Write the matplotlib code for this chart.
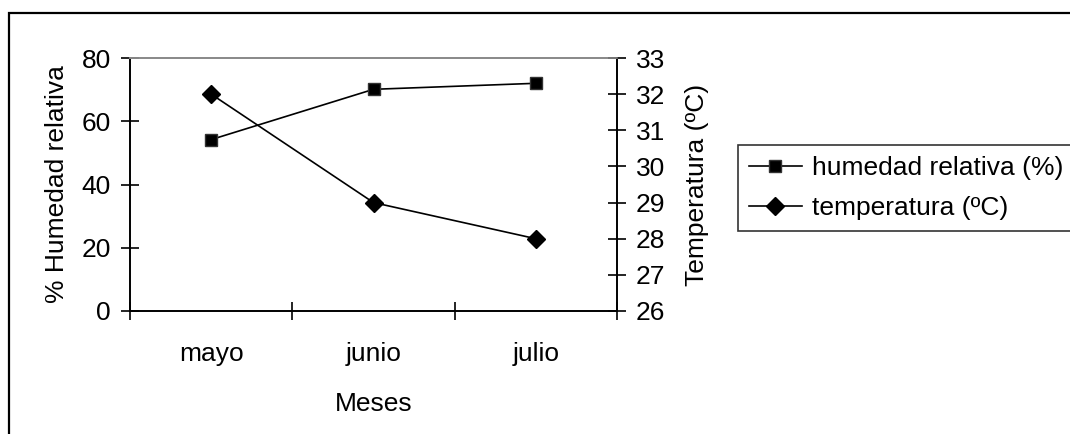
import matplotlib
matplotlib.use("Agg")
import matplotlib.pyplot as plt
from matplotlib.patches import Rectangle

months = ["mayo", "junio", "julio"]
humedad = [54.2, 70.1, 72.0]
temperatura = [32, 29, 28]
left_ticks = [0, 20, 40, 60, 80]
right_ticks = [26, 27, 28, 29, 30, 31, 32, 33]

plt.rcParams['font.family'] = ['Liberation Sans', 'DejaVu Sans']
FS = 19

W, H = 1070, 434
fig = plt.figure(figsize=(W / 100, H / 100), dpi=100)

# outer chart frame (extends beyond right/bottom edges as in the reference)
fig.patches.append(Rectangle((9 / W, -0.05), 1.2, 1 - 13 / H + 0.05,
                             transform=fig.transFigure, fill=False,
                             edgecolor='black', linewidth=1.6))

ax = fig.add_axes([130 / W, 1 - 311 / H, (617 - 130) / W, (311 - 58) / H])
ax2 = ax.twinx()

x = list(range(len(months)))
ax.plot(x, humedad, color='black', linewidth=1.2, marker='s', markersize=8.5,
        markerfacecolor='black', markeredgecolor='#333333', markeredgewidth=1.0,
        label='humedad relativa (%)', zorder=3)
ax2.plot(x, temperatura, color='black', linewidth=1.2, marker='D', markersize=8.8,
         markerfacecolor='black', markeredgecolor='black',
         label='temperatura (ºC)', zorder=3)

ax.set_xlim(-0.5, len(months) - 0.5)
ax.set_ylim(0, 80)
ax2.set_ylim(26, 33)

ax.set_yticks(left_ticks)
ax2.set_yticks(right_ticks)
ax.set_xticks([i - 0.5 for i in range(len(months) + 1)])
ax.set_xticklabels([])
ax.set_xticks(x, minor=True)
ax.set_xticklabels(months, minor=True)

TL = 13.5
ax.tick_params(axis='x', which='major', direction='inout', length=TL, width=1.2)
ax.tick_params(axis='x', which='minor', length=0, pad=22, labelsize=FS)
ax.tick_params(axis='y', direction='inout', length=TL, width=1.2, labelsize=FS, pad=7)
ax2.tick_params(axis='y', direction='inout', length=TL, width=1.2, labelsize=FS, pad=7)

for a in (ax, ax2):
    for s in ('left', 'right', 'bottom'):
        a.spines[s].set_linewidth(1.4)
        a.spines[s].set_color('black')
    a.spines['top'].set_color('#888888')
    a.spines['top'].set_linewidth(1.2)
ax.spines['right'].set_visible(False)
ax2.spines['left'].set_visible(False)
ax2.spines['bottom'].set_visible(False)

ax.set_xlabel('Meses', fontsize=FS, labelpad=19)
ax.set_ylabel('% Humedad relativa', fontsize=FS, labelpad=9)
ax2.set_ylabel('Temperatura (ºC)', fontsize=FS, labelpad=14)

h1, l1 = ax.get_legend_handles_labels()
h2, l2 = ax2.get_legend_handles_labels()
leg = fig.legend(h1 + h2, l1 + l2, loc='upper left',
                 bbox_to_anchor=(738 / W, 1 - 145 / H), fontsize=FS,
                 frameon=True, fancybox=False, borderaxespad=0,
                 handlelength=2.0, handletextpad=0.38, borderpad=0.42,
                 labelspacing=0.6)
leg.get_frame().set_edgecolor('black')
leg.get_frame().set_linewidth(1.2)

fig.savefig('out.png', dpi=100)
